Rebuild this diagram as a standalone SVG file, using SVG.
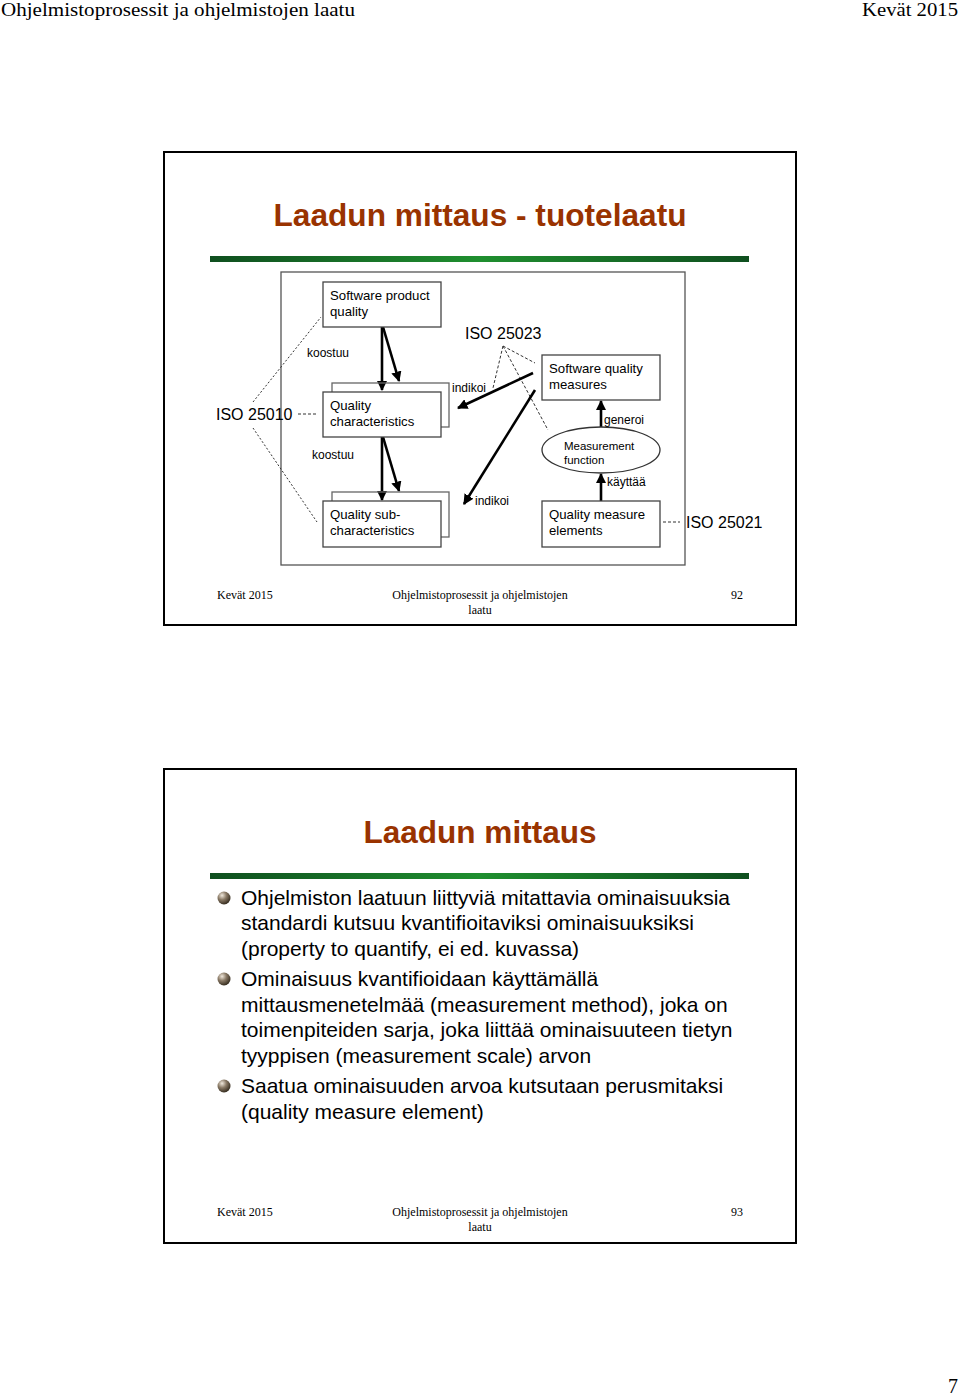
<svg xmlns="http://www.w3.org/2000/svg" width="960" height="1396" viewBox="0 0 960 1396">
<style>
.serif{font-family:"Liberation Serif","Times New Roman",serif;fill:#000}
.sans{font-family:"Liberation Sans",Arial,sans-serif;fill:#000}
.title{font-family:"Liberation Sans",Arial,sans-serif;font-weight:bold;font-size:32px;fill:#993300}
.frame{fill:#fff;stroke:#000;stroke-width:2}
.box{fill:#fff;stroke:#444;stroke-width:1.3}
.dbox{fill:none;stroke:#666;stroke-width:1.3}
.dot{fill:none;stroke:#333;stroke-width:1;stroke-dasharray:2,2}
.dash{fill:none;stroke:#333;stroke-width:1;stroke-dasharray:3,2}
.arr{fill:none;stroke:#000;stroke-width:2.6;marker-end:url(#ah)}
.lbl{font-size:12px}
.nt{font-size:13.2px}
.iso{font-size:16px}
.body{font-size:21px}
.foot{font-size:12px}
</style>
<defs>
<marker id="ah" viewBox="0 0 10 10" refX="9" refY="5" markerWidth="4" markerHeight="4" orient="auto" markerUnits="strokeWidth">
<path d="M0,0 L10,5 L0,10 z" fill="#000"/>
</marker>
<linearGradient id="bar" x1="0" y1="0" x2="1" y2="0">
<stop offset="0" stop-color="#0f4f1f"/>
<stop offset="0.5" stop-color="#1f8f2f"/>
<stop offset="1" stop-color="#0f4f1f"/>
</linearGradient>
<radialGradient id="ball" cx="0.35" cy="0.3" r="0.75">
<stop offset="0" stop-color="#f0e8dc"/>
<stop offset="0.45" stop-color="#8a7a66"/>
<stop offset="1" stop-color="#2e2518"/>
</radialGradient>
</defs>
<rect width="960" height="1396" fill="#fff"/>

<g id="page-header">
<text class="serif" x="1" y="16" font-size="19" textLength="354" lengthAdjust="spacingAndGlyphs">Ohjelmistoprosessit ja ohjelmistojen laatu</text>
<text class="serif" x="958" y="16" font-size="19" text-anchor="end" textLength="96" lengthAdjust="spacingAndGlyphs">Kevät 2015</text>
</g>

<g id="slide1">
<rect class="frame" x="164" y="152" width="632" height="473"/>
<text class="title" x="480" y="226" text-anchor="middle" textLength="413" lengthAdjust="spacingAndGlyphs">Laadun mittaus - tuotelaatu</text>
<rect x="210" y="256" width="539" height="6" fill="url(#bar)"/>
<rect x="281" y="272" width="404" height="293" fill="#fff" stroke="#555" stroke-width="1.3"/>

<g id="connectors">
<line class="dot" x1="253" y1="402" x2="321" y2="317"/>
<line class="dot" x1="253" y1="428" x2="317" y2="522"/>
<line class="dash" x1="298" y1="414" x2="316" y2="414"/>
<line class="dash" x1="503" y1="346" x2="493" y2="388"/>
<line class="dash" x1="503" y1="346" x2="535" y2="363"/>
<line class="dash" x1="503" y1="346" x2="548" y2="430"/>
<line class="dash" x1="663" y1="522" x2="680" y2="522"/>
<line class="arr" x1="382" y1="327" x2="382" y2="390"/>
<line class="arr" x1="383" y1="327" x2="399" y2="381"/>
<line class="arr" x1="382" y1="437" x2="382" y2="500"/>
<line class="arr" x1="383" y1="437" x2="399" y2="491"/>
<line class="arr" x1="533" y1="373" x2="458" y2="408"/>
<line class="arr" x1="535" y1="390" x2="464" y2="504"/>
<line class="arr" x1="601" y1="428" x2="601" y2="401"/>
<line class="arr" x1="601" y1="501" x2="601" y2="474"/>
</g>

<g id="n-spq">
<rect class="box" x="323" y="282" width="118" height="45"/>
<text class="sans nt" x="330" y="300">Software product</text>
<text class="sans nt" x="330" y="316">quality</text>
</g>
<g id="n-qc">
<rect class="dbox" x="332" y="383" width="117" height="44" fill="#fff"/>
<rect class="box" x="323" y="392" width="118" height="45"/>
<text class="sans nt" x="330" y="410">Quality</text>
<text class="sans nt" x="330" y="426">characteristics</text>
</g>
<g id="n-qsc">
<rect class="dbox" x="332" y="492" width="117" height="45" fill="#fff"/>
<rect class="box" x="323" y="501" width="118" height="46"/>
<text class="sans nt" x="330" y="519">Quality sub-</text>
<text class="sans nt" x="330" y="535">characteristics</text>
</g>
<g id="n-sqm">
<rect class="box" x="542" y="355" width="118" height="45"/>
<text class="sans nt" x="549" y="373">Software quality</text>
<text class="sans nt" x="549" y="389">measures</text>
</g>
<g id="n-mf">
<ellipse cx="601" cy="450" rx="59" ry="23" fill="#fff" stroke="#333" stroke-width="1.3"/>
<text class="sans" font-size="11.5" x="564" y="450">Measurement</text>
<text class="sans" font-size="11.5" x="564" y="464">function</text>
</g>
<g id="n-qme">
<rect class="box" x="542" y="501" width="118" height="46"/>
<text class="sans nt" x="549" y="519">Quality measure</text>
<text class="sans nt" x="549" y="535">elements</text>
</g>
<g id="labels">
<text class="sans iso" x="216" y="420">ISO 25010</text>
<text class="sans iso" x="465" y="339">ISO 25023</text>
<text class="sans iso" x="686" y="528">ISO 25021</text>
<text class="sans lbl" x="307" y="357">koostuu</text>
<text class="sans lbl" x="312" y="459">koostuu</text>
<text class="sans lbl" x="452" y="392">indikoi</text>
<text class="sans lbl" x="475" y="505">indikoi</text>
<text class="sans lbl" x="604" y="424">generoi</text>
<text class="sans lbl" x="607" y="486">käyttää</text>
</g>

<text class="serif foot" x="217" y="599">Kevät 2015</text>
<text class="serif foot" x="480" y="599" text-anchor="middle">Ohjelmistoprosessit ja ohjelmistojen</text>
<text class="serif foot" x="480" y="614" text-anchor="middle">laatu</text>
<text class="serif foot" x="737" y="599" text-anchor="middle">92</text>
</g>

<g id="slide2">
<rect class="frame" x="164" y="769" width="632" height="474"/>
<text class="title" x="480" y="843" text-anchor="middle" textLength="233" lengthAdjust="spacingAndGlyphs">Laadun mittaus</text>
<rect x="210" y="873" width="539" height="6" fill="url(#bar)"/>
<circle cx="224" cy="898" r="6.5" fill="url(#ball)"/>
<circle cx="224" cy="979" r="6.5" fill="url(#ball)"/>
<circle cx="224" cy="1086" r="6.5" fill="url(#ball)"/>
<g class="sans body">
<text x="241" y="905">Ohjelmiston laatuun liittyviä mitattavia ominaisuuksia</text>
<text x="241" y="930">standardi kutsuu kvantifioitaviksi ominaisuuksiksi</text>
<text x="241" y="956">(property to quantify, ei ed. kuvassa)</text>
<text x="241" y="986">Ominaisuus kvantifioidaan käyttämällä</text>
<text x="241" y="1012">mittausmenetelmää (measurement method), joka on</text>
<text x="241" y="1037">toimenpiteiden sarja, joka liittää ominaisuuteen tietyn</text>
<text x="241" y="1063">tyyppisen (measurement scale) arvon</text>
<text x="241" y="1093">Saatua ominaisuuden arvoa kutsutaan perusmitaksi</text>
<text x="241" y="1119">(quality measure element)</text>
</g>
<text class="serif foot" x="217" y="1216">Kevät 2015</text>
<text class="serif foot" x="480" y="1216" text-anchor="middle">Ohjelmistoprosessit ja ohjelmistojen</text>
<text class="serif foot" x="480" y="1231" text-anchor="middle">laatu</text>
<text class="serif foot" x="737" y="1216" text-anchor="middle">93</text>
</g>

<text class="serif" x="958" y="1393" font-size="20" text-anchor="end">7</text>
</svg>
